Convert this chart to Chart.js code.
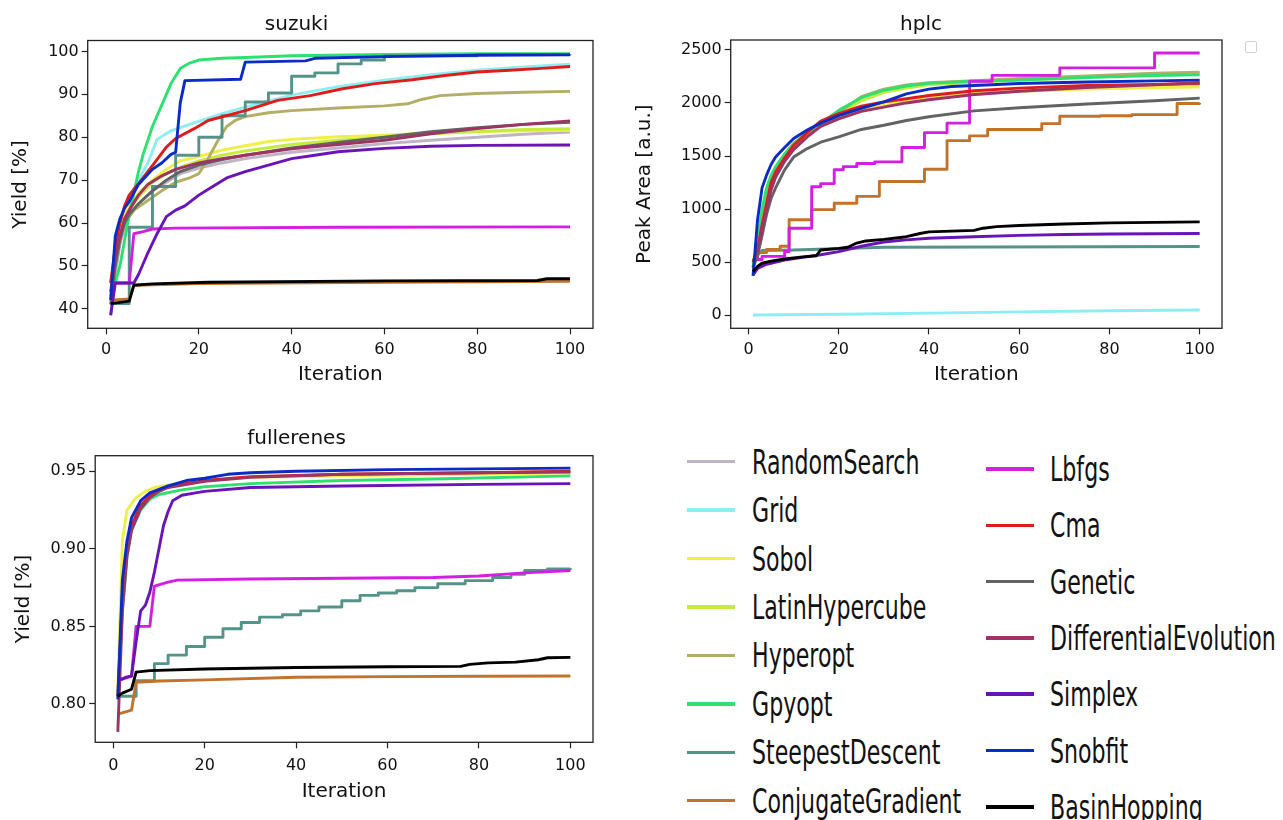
<!DOCTYPE html>
<html>
<head>
<meta charset="utf-8">
<script src="https://cdn.jsdelivr.net/npm/chart.js@4"></script>
<style>
  body { margin: 0; background: #fff; width: 1283px; height: 820px; overflow: hidden; position: relative; font-family: "DejaVu Sans"; }
  canvas { position: absolute; }
  .leg-line { position: absolute; height: 3.5px; }
  .leg-text { position: absolute; font-size: 33px; line-height: 33px; white-space: nowrap; transform-origin: 0 0; transform: scaleX(0.67); color: #111; }
  #emptyLegend { position: absolute; left: 1245px; top: 41px; width: 10px; height: 10px; border: 1px solid #d0d0d0; border-radius: 2px; }
</style>
</head>
<body>
<canvas id="suzuki" width="608" height="391" style="left:0;top:0"></canvas>
<canvas id="hplc" width="617" height="391" style="left:620px;top:0"></canvas>
<canvas id="fullerenes" width="608" height="398" style="left:0;top:410px"></canvas>
<div id="emptyLegend"></div>
<div id="legend"></div>
<script>
const methods = ["RandomSearch", "Grid", "Sobol", "LatinHypercube", "Hyperopt", "Gpyopt",
  "SteepestDescent", "ConjugateGradient", "Lbfgs", "Cma", "Genetic",
  "DifferentialEvolution", "Simplex", "Snobfit", "BasinHopping"];
const colors = ["#bfb3c6", "#8ceef2", "#f0ee48", "#c4ec3c", "#b2ae66", "#2ee070",
  "#549488", "#c2722a", "#d41ee2", "#de1c1c", "#636363",
  "#9e3466", "#6a14b8", "#0a2cc4", "#000000"];

const iterTicks = [0, 20, 40, 60, 80, 100];
const suzukiTicks = [40, 50, 60, 70, 80, 90, 100];
const hplcTicks = [0, 500, 1000, 1500, 2000, 2500];
const fullerenesTicks = [0.80, 0.85, 0.90, 0.95];

// [iteration, best value so far], one list per method (same order as methods)
const suzukiSeries = [
  [[1,38.5],[2,48],[3,55],[4,59],[5,61.5],[7,64.5],[10,67.5],[13,69.5],[16,71.5],[20,72.8],[25,74],[30,75],[40,76.5],[50,77.5],[60,78.5],[70,79.3],[80,80],[90,80.7],[100,81.2]],
  [[1,46],[2,54],[3,60],[5,66],[7,70],[9,74],[11,79.5],[14,81.5],[18,83],[25,85.5],[30,87],[40,89.8],[50,91.8],[60,93.3],[70,94.6],[80,95.6],[90,96.4],[100,97]],
  [[1,44],[2,52],[3,58],[4,62],[5,64],[7,67],[10,70],[13,72.5],[16,74.5],[20,75.5],[25,77],[30,78],[35,79],[40,79.5],[50,80.1],[60,80.5],[70,81],[80,81.3],[90,81.5],[100,81.6]],
  [[1,43],[2,51],[3,57],[4,61],[5,63],[7,66],[10,69.5],[13,71.5],[16,73],[20,74.5],[25,75.8],[30,76.8],[40,78.3],[50,79.3],[60,80],[70,80.8],[80,81.3],[90,81.8],[100,82]],
  [[1,42],[2,52],[3,57],[4,60],[6,63],[8,64.5],[10,66],[12,67.5],[15,69.5],[18,70.5],[20,71.5],[22,75],[24,79],[26,82.5],[28,84],[30,84.8],[35,85.7],[40,86.2],[50,86.8],[60,87.3],[65,87.8],[68,88.8],[72,89.7],[80,90.2],[90,90.5],[100,90.7]],
  [[1,44],[2,46],[3,50],[4,56],[5,62],[6,67],[7,72],[8,76],[10,82.5],[12,87.5],[14,92.5],[16,96],[18,97.3],[20,98],[25,98.4],[30,98.6],[40,99],[60,99.3],[80,99.5],[100,99.5]],
  [[1,41.2],[5,59],[10,68.5],[15,75.8],[20,80],[25,85],[30,88.2],[35,90.3],[40,94.2],[45,95],[50,97.1],[55,98],[60,99],[80,99.3],[100,99.4]],
  [[1,42],[5,42.3],[6,45.5],[20,45.9],[60,46.2],[100,46.4]],
  [[1,46],[5,46],[6,57.5],[8,58],[10,58.6],[15,58.8],[50,59],[100,59.1]],
  [[1,46],[2,54.5],[3,60],[4,64],[5,66.5],[7,69.2],[10,73.4],[13,77.7],[15,79.7],[19,82],[22,83.9],[30,86.2],[37,88.6],[44,89.7],[51,91.3],[58,92.5],[66,93.4],[73,94.4],[80,95.2],[87,95.6],[93,96],[100,96.5]],
  [[1,41],[2,50],[3,56],[4,60],[5,62],[7,64.5],[10,67.5],[13,70],[16,72],[20,73.5],[25,74.8],[30,75.8],[40,77.5],[50,78.8],[60,80],[70,81.3],[80,82.2],[90,83],[100,83.5]],
  [[1,44],[2,52],[3,57],[4,61],[5,63],[7,66.5],[9,69],[12,71],[15,72.5],[20,74],[25,75],[30,75.8],[40,77.3],[50,78.3],[60,79.3],[70,80.8],[80,82],[90,83],[100,83.8]],
  [[1,38.5],[2,46],[6,46],[7,48],[9,53],[11,57.5],[13,61.5],[15,63],[17,64],[20,66.5],[23,68.5],[26,70.5],[30,72],[35,73.5],[40,75],[45,75.8],[50,76.6],[60,77.4],[70,77.9],[80,78.1],[100,78.2]],
  [[1,42],[2,57],[3,61],[4,63.5],[5,65],[7,69],[10,72.5],[12,74],[14,76],[15,76.5],[16,88],[17,93.2],[29,93.5],[30,97.5],[43,97.8],[45,98.4],[60,98.8],[80,99.1],[100,99.2]],
  [[1,41.2],[5,41.8],[6,45.5],[10,45.8],[22,46.2],[60,46.5],[93,46.6],[95,47],[100,47]]
];

const hplcSeries = [
  [[1,480],[2,600],[3,880],[4,1080],[5,1230],[6,1330],[8,1460],[10,1570],[13,1690],[16,1780],[20,1860],[25,1940],[30,1985],[35,2020],[40,2045],[50,2080],[60,2110],[75,2140],[90,2160],[100,2170]],
  [[1,2],[20,10],[40,20],[60,32],[80,42],[100,50]],
  [[1,480],[2,600],[3,900],[4,1100],[5,1250],[6,1350],[8,1480],[10,1580],[13,1700],[16,1790],[20,1870],[25,1950],[30,1990],[35,2030],[40,2060],[50,2090],[60,2110],[75,2130],[90,2145],[100,2150]],
  [[1,450],[2,650],[3,950],[4,1150],[5,1280],[6,1370],[8,1500],[10,1600],[13,1700],[16,1790],[20,1890],[25,2020],[30,2100],[35,2140],[40,2170],[50,2195],[60,2215],[75,2245],[90,2268],[100,2280]],
  [[1,450],[2,650],[3,950],[4,1150],[5,1280],[6,1370],[8,1500],[10,1600],[13,1700],[16,1800],[20,1910],[25,2060],[30,2130],[35,2170],[40,2190],[50,2210],[60,2230],[75,2255],[90,2280],[100,2290]],
  [[1,450],[2,700],[3,1000],[4,1200],[5,1320],[6,1400],[8,1520],[10,1620],[13,1720],[16,1810],[20,1930],[25,2050],[30,2120],[35,2160],[40,2185],[50,2205],[60,2215],[75,2240],[90,2258],[100,2265]],
  [[1,520],[3,610],[10,615],[30,640],[100,648]],
  [[1,525],[2,590],[4,620],[7,650],[9,900],[14,995],[19,1055],[24,1120],[29,1260],[39,1375],[44,1645],[49,1690],[53,1750],[65,1805],[69,1875],[78,1880],[85,1890],[95,1995],[100,2000]],
  [[1,525],[3,555],[8,600],[9,820],[14,1210],[16,1240],[19,1370],[21,1400],[24,1430],[28,1445],[34,1580],[39,1720],[44,1810],[49,2205],[54,2260],[69,2330],[90,2470],[100,2470]],
  [[1,500],[2,620],[3,850],[4,1050],[5,1250],[6,1350],[8,1480],[10,1600],[13,1720],[16,1830],[20,1900],[25,1970],[30,2010],[35,2040],[40,2070],[50,2115],[60,2140],[75,2165],[90,2175],[100,2185]],
  [[1,450],[2,560],[3,750],[4,950],[5,1100],[6,1200],[8,1370],[10,1490],[13,1570],[16,1630],[20,1680],[25,1750],[30,1790],[35,1835],[40,1870],[50,1925],[60,1955],[75,1990],[90,2020],[100,2045]],
  [[1,500],[2,600],[3,820],[4,1000],[5,1180],[6,1300],[8,1450],[10,1560],[13,1680],[16,1780],[20,1850],[25,1920],[30,1960],[35,2000],[40,2030],[50,2080],[60,2110],[75,2145],[90,2170],[100,2190]],
  [[1,380],[2,440],[4,480],[8,520],[12,545],[16,570],[20,600],[25,650],[30,690],[35,710],[40,725],[50,740],[60,752],[70,760],[80,765],[100,770]],
  [[1,370],[2,900],[3,1200],[4,1320],[5,1420],[6,1490],[8,1580],[10,1665],[13,1745],[16,1810],[20,1880],[25,1950],[30,2010],[35,2085],[40,2130],[45,2155],[50,2165],[60,2183],[75,2197],[90,2208],[100,2215]],
  [[1,410],[2,460],[3,490],[5,510],[8,530],[12,550],[15,560],[16,615],[20,630],[22,640],[24,680],[26,700],[30,715],[35,740],[38,770],[40,785],[50,800],[52,820],[55,835],[60,845],[70,860],[80,870],[90,875],[100,880]]
];

// methods that do not show in the fullerenes panel are null
const fullerenesSeries = [
  null,
  null,
  [[1,0.81],[2,0.905],[3,0.925],[5,0.933],[7,0.937],[9,0.9395],[12,0.941],[20,0.944],[30,0.946],[50,0.947],[80,0.948],[100,0.949]],
  null,
  null,
  [[1,0.805],[2,0.86],[3,0.895],[4,0.912],[6,0.925],[8,0.932],[10,0.935],[15,0.938],[20,0.940],[30,0.942],[50,0.944],[70,0.945],[100,0.947]],
  [[1,0.805],[5,0.815],[9,0.826],[12,0.8315],[16,0.837],[20,0.843],[24,0.8485],[28,0.8525],[32,0.856],[37,0.8575],[41,0.86],[45,0.8625],[50,0.8665],[54,0.87],[58,0.8715],[62,0.873],[66,0.875],[71,0.8775],[77,0.8795],[83,0.8815],[87,0.8835],[90,0.886],[95,0.887],[100,0.8875]],
  [[1,0.7935],[4,0.796],[5,0.814],[10,0.8148],[20,0.8155],[40,0.8172],[60,0.8176],[80,0.8179],[100,0.818]],
  [[1,0.815],[4,0.818],[5,0.85],[8,0.85],[9,0.876],[12,0.8785],[14,0.8798],[30,0.8805],[50,0.881],[70,0.8815],[80,0.8825],[90,0.8845],[100,0.886]],
  [[1,0.805],[2,0.87],[3,0.9],[4,0.915],[6,0.928],[8,0.934],[10,0.938],[12,0.94],[20,0.944],[30,0.9465],[50,0.948],[80,0.949],[100,0.950]],
  null,
  [[1,0.782],[2,0.86],[3,0.895],[4,0.912],[6,0.926],[8,0.933],[10,0.937],[12,0.9395],[20,0.9435],[30,0.946],[50,0.948],[80,0.949],[100,0.9495]],
  [[1,0.815],[3,0.8175],[4,0.818],[5,0.84],[6,0.86],[7,0.8635],[8,0.872],[9,0.885],[10,0.9],[11,0.915],[12,0.924],[13,0.931],[15,0.9345],[18,0.936],[20,0.937],[30,0.9395],[50,0.9405],[80,0.9415],[100,0.942]],
  [[1,0.803],[2,0.88],[3,0.905],[4,0.92],[6,0.931],[8,0.936],[12,0.9405],[16,0.944],[20,0.9455],[25,0.948],[30,0.949],[40,0.950],[60,0.951],[80,0.9515],[100,0.952]],
  [[1,0.805],[2,0.807],[4,0.8095],[5,0.8205],[8,0.8215],[20,0.8225],[40,0.8235],[60,0.824],[76,0.8242],[78,0.8255],[82,0.8265],[88,0.827],[93,0.8285],[95,0.8298],[100,0.830]]
];

const suzukiStepped = ["SteepestDescent"];
const hplcStepped = ["ConjugateGradient", "Lbfgs"];
const fullerenesStepped = ["SteepestDescent"];

Chart.defaults.font.family = "'DejaVu Sans'";
Chart.defaults.color = "#111";

// matplotlib-like box round the axes
const frame = {
  id: "frame",
  afterDatasetsDraw(chart) {
    const a = chart.chartArea, c = chart.ctx;
    c.save();
    c.strokeStyle = "#222";
    c.lineWidth = 1.3;
    c.strokeRect(a.left, a.top, a.right - a.left, a.bottom - a.top);
    c.restore();
  }
};

function makePlot(id, cfg) {
  const datasets = [];
  cfg.series.forEach((pts, i) => {
    if (!pts) return;
    datasets.push({
      label: methods[i],
      data: pts,
      borderColor: colors[i],
      backgroundColor: colors[i],
      borderWidth: 2.9,
      pointRadius: 0,
      tension: 0,
      fill: false,
      borderJoinStyle: "round",
      stepped: cfg.stepped.includes(methods[i]) ? "before" : false,
      order: methods.length - i   // later methods on top, as in matplotlib
    });
  });

  const tickGrid = { display: true, drawOnChartArea: false, drawTicks: true, tickLength: 6, tickColor: "#222", tickWidth: 1.2 };

  return new Chart(document.getElementById(id), {
    type: "line",
    data: { datasets },
    options: {
      responsive: false,
      animation: false,
      devicePixelRatio: 1,
      layout: { padding: { left: 0, right: 15, top: cfg.padTop, bottom: 0 } },
      plugins: {
        legend: { display: false },
        tooltip: { enabled: false },
        title: { display: true, text: cfg.title, color: "#111", font: { size: 20, weight: "normal" }, padding: { top: 0, bottom: cfg.titleGap } }
      },
      scales: {
        x: {
          type: "linear", min: -3.95, max: 104.95,
          afterFit(s) { s.height = cfg.xAxisH; },
          afterBuildTicks(s) { s.ticks = iterTicks.map(v => ({ value: v })); },
          grid: tickGrid, border: { display: false },
          ticks: { font: { size: 16 }, color: "#111", padding: cfg.xPad, maxRotation: 0 },
          title: { display: true, text: "Iteration", color: "#111", font: { size: 20 }, padding: { top: 0, bottom: 4 } }
        },
        y: {
          type: "linear", min: cfg.ymin, max: cfg.ymax,
          afterFit(s) { s.width = cfg.yAxisW; },
          afterBuildTicks(s) { s.ticks = cfg.yTicks.map(v => ({ value: v })); },
          grid: tickGrid, border: { display: false },
          ticks: { font: { size: 16 }, color: "#111", padding: 3, callback: cfg.fmt },
          title: { display: true, text: cfg.yLabel, color: "#111", font: { size: 20 }, padding: { top: cfg.yTitlePad, bottom: 0 } }
        }
      }
    },
    plugins: [frame]
  });
}

makePlot("suzuki", {
  title: "suzuki", yLabel: "Yield [%]", series: suzukiSeries, stepped: suzukiStepped,
  ymin: 35.45, ymax: 102.55, yTicks: suzukiTicks, fmt: v => String(v),
  padTop: 13, titleGap: 3.5, yAxisW: 87.7, xAxisH: 62.7, xPad: 6, yTitlePad: 9
});

makePlot("hplc", {
  title: "hplc", yLabel: "Peak Area [a.u.]", series: hplcSeries, stepped: hplcStepped,
  ymin: -123, ymax: 2593, yTicks: hplcTicks, fmt: v => String(v),
  padTop: 13, titleGap: 3, yAxisW: 110.7, xAxisH: 62.7, xPad: 6, yTitlePad: 13
});

makePlot("fullerenes", {
  title: "fullerenes", yLabel: "Yield [%]", series: fullerenesSeries, stepped: fullerenesStepped,
  ymin: 0.7753, ymax: 0.9600, yTicks: fullerenesTicks, fmt: v => v.toFixed(2),
  padTop: 17, titleGap: 4.7, yAxisW: 95.2, xAxisH: 65.7, xPad: 8, yTitlePad: 12
});

// legend in two columns, built from the same method / colour lists
const legend = document.getElementById("legend");
const legendCols = [
  { from: 0, to: 8, lineX: 687, textX: 752, y0: 461.7, dy: 48.43 },
  { from: 8, to: 15, lineX: 986, textX: 1050, y0: 469, dy: 56.3 }
];
legendCols.forEach(col => {
  for (let i = col.from; i < col.to; i++) {
    const y = col.y0 + (i - col.from) * col.dy;
    const line = document.createElement("div");
    line.className = "leg-line";
    line.style.left = col.lineX + "px";
    line.style.width = "48px";
    line.style.top = (y - 1.75) + "px";
    line.style.background = colors[i];
    legend.appendChild(line);
    const txt = document.createElement("div");
    txt.className = "leg-text";
    txt.style.left = col.textX + "px";
    txt.style.top = (y - 16) + "px";
    txt.textContent = methods[i];
    legend.appendChild(txt);
  }
});
</script>
</body>
</html>
